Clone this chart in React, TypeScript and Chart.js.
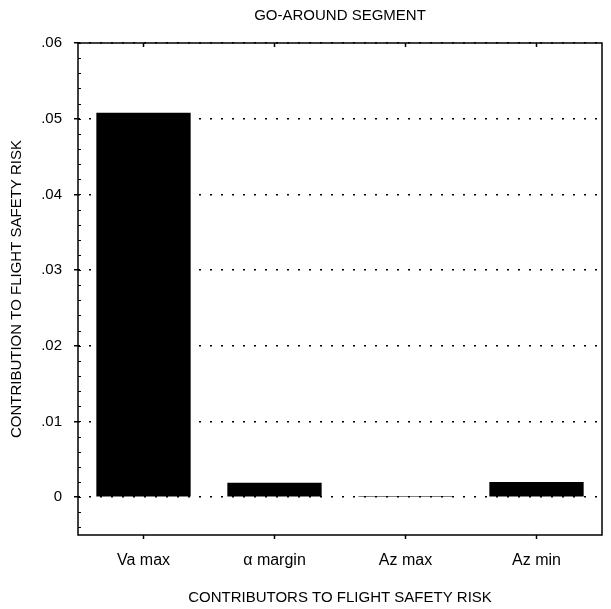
import React, { useEffect, useRef } from 'react';
import { Chart, registerables } from 'chart.js';

Chart.register(...registerables);

const categories = ['Va max', 'α margin', 'Az max', 'Az min'];
const riskValues = [0.0508, 0.0019, 0.00015, 0.002];
const yTickValues = [0, 0.01, 0.02, 0.03, 0.04, 0.05, 0.06];
const yTickLabels = ['0', '.01', '.02', '.03', '.04', '.05', '.06'];
const chartTitle = 'GO-AROUND SEGMENT';
const yAxisTitle = 'CONTRIBUTION TO FLIGHT SAFETY RISK';
const xAxisTitle = 'CONTRIBUTORS TO FLIGHT SAFETY RISK';
const yMin = -0.005;
const yMax = 0.06;
const minorStep = 0.002;

const FONT = '"Liberation Sans", Arial, sans-serif';

const framePlugin = {
  id: 'frame',
  afterDraw(chart: any) {
    const { ctx, chartArea, scales } = chart;
    const { left, right, top, bottom } = chartArea;
    ctx.save();
    ctx.strokeStyle = '#000';
    ctx.lineWidth = 1.5;
    ctx.strokeRect(left, top, right - left, bottom - top);
    // minor ticks on the y axis (inside)
    const ys = scales.y;
    ctx.lineWidth = 1;
    const start = Math.ceil(yMin / minorStep) * minorStep;
    for (let v = start; v <= yMax + 1e-9; v += minorStep) {
      const py = Math.round(ys.getPixelForValue(v)) + 0.5;
      ctx.beginPath();
      ctx.moveTo(left, py);
      ctx.lineTo(left + 3, py);
      ctx.stroke();
    }
    // ticks on the top border at category centres (inside)
    const xs = scales.x;
    ctx.lineWidth = 1.5;
    categories.forEach((_, i) => {
      const px = xs.getPixelForValue(i);
      ctx.beginPath();
      ctx.moveTo(px, top);
      ctx.lineTo(px, top + 4);
      ctx.stroke();
    });
    ctx.restore();
  },
};

export default function App() {
  const ref = useRef<HTMLCanvasElement | null>(null);

  useEffect(() => {
    if (!ref.current) return;
    const chart = new Chart(ref.current, {
      type: 'bar',
      data: {
        labels: categories,
        datasets: [
          {
            data: riskValues,
            backgroundColor: '#000',
            borderWidth: 0,
            barPercentage: 0.72,
            categoryPercentage: 1,
          },
        ],
      },
      options: {
        responsive: false,
        animation: false,
        layout: { padding: { left: 0, right: 9, top: 0, bottom: 0 } },
        plugins: {
          legend: { display: false },
          tooltip: { enabled: false },
          title: { display: false },
        },
        scales: {
          xTop: {
            type: 'category',
            position: 'top',
            labels: categories,
            offset: true,
            grid: { display: false },
            border: { display: false },
            ticks: { display: false },
            title: {
              display: true,
              text: chartTitle,
              color: '#000',
              font: { family: FONT, size: 15 },
              padding: { top: 7, bottom: 0 },
            },
            afterFit(scale: any) {
              scale.height = 43;
            },
          },
          x: {
            type: 'category',
            position: 'bottom',
            offset: true,
            grid: {
              offset: false,
              drawOnChartArea: false,
              drawTicks: true,
              tickLength: 4,
              tickColor: '#000',
              tickWidth: 1.5,
            },
            border: { display: false },
            ticks: {
              color: '#000',
              font: { family: FONT, size: 16 },
              padding: 12,
              maxRotation: 0,
            },
            title: {
              display: true,
              text: xAxisTitle,
              color: '#000',
              font: { family: FONT, size: 15 },
              padding: { top: 0, bottom: 2 },
            },
            afterFit(scale: any) {
              scale.height = 74;
            },
          },
          y: {
            min: yMin,
            max: yMax,
            afterBuildTicks(scale: any) {
              scale.ticks = yTickValues.map((v) => ({ value: v }));
            },
            grid: {
              color: '#000',
              lineWidth: 1.5,
              drawTicks: true,
              tickLength: 4,
              tickColor: '#000',
              tickWidth: 1.5,
              tickBorderDash: [],
            },
            border: { display: false, dash: [2, 9] },
            ticks: {
              color: '#000',
              font: { family: FONT, size: 15 },
              padding: 12,
              callback: (v: any) => {
                const idx = yTickValues.findIndex((t) => Math.abs(t - Number(v)) < 1e-9);
                return idx >= 0 ? yTickLabels[idx] : '';
              },
            },
            title: {
              display: true,
              text: yAxisTitle,
              color: '#000',
              font: { family: FONT, size: 15 },
              padding: { top: 8, bottom: 0 },
            },
            afterFit(scale: any) {
              scale.width = 78;
            },
          },
        },
      },
      plugins: [framePlugin],
    } as any);
    return () => chart.destroy();
  }, []);

  return (
    <div style={{ position: 'absolute', left: 0, top: 0, width: 611, height: 609, background: '#fff' }}>
      <canvas ref={ref} width={611} height={609} />
    </div>
  );
}
